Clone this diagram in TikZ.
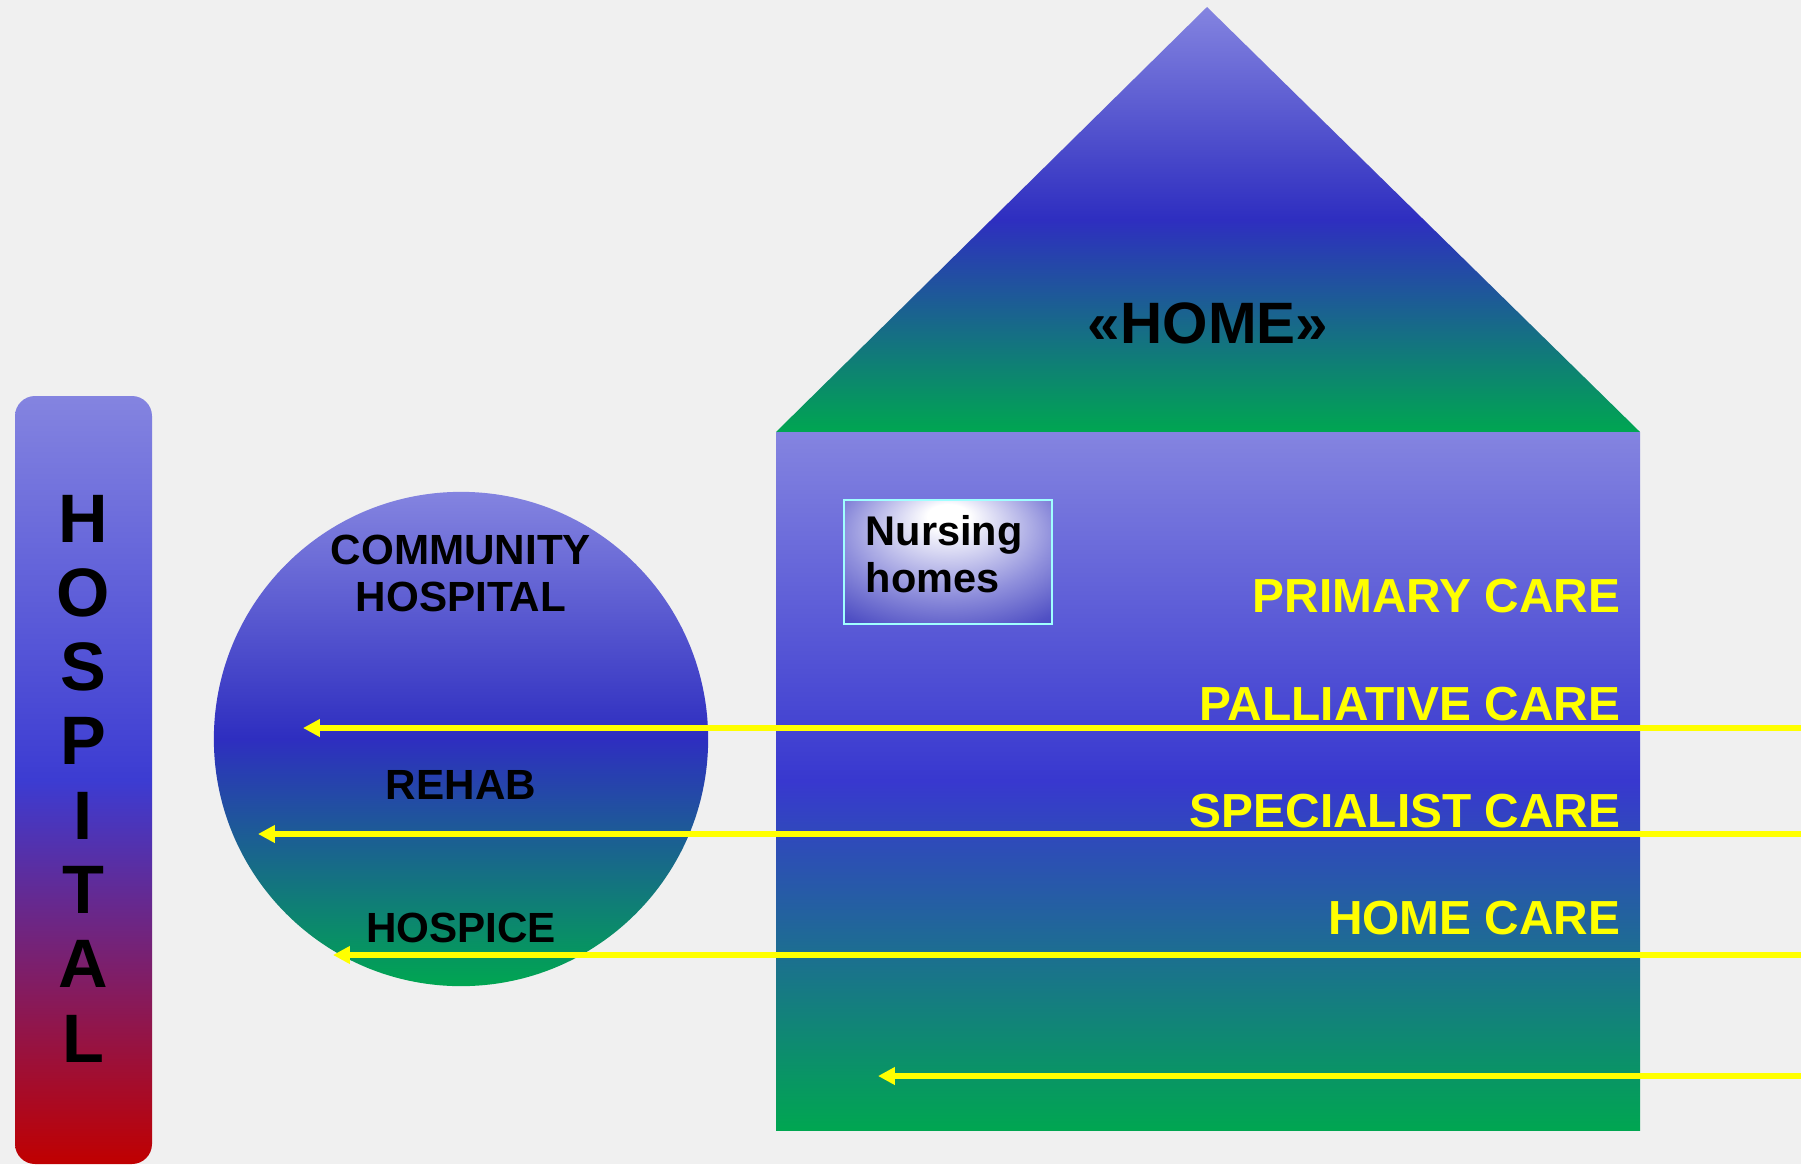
\documentclass[tikz,border=0pt]{standalone}
\usepackage{fontspec}
\setmainfont{Liberation Sans}
\usetikzlibrary{arrows.meta}
\definecolor{bgray}{HTML}{F0F0F0}
\definecolor{lilac}{HTML}{8484E0}
\definecolor{deepblue}{HTML}{2E2EC0}
\definecolor{bodyblue}{HTML}{3838CF}
\definecolor{hospblue}{HTML}{3C3CD2}
\definecolor{hospred}{HTML}{C00000}
\definecolor{grass}{HTML}{00A651}
\definecolor{nursemid}{HTML}{9090DC}
\definecolor{nursedark}{HTML}{5050C4}
\definecolor{nurseblue}{HTML}{3030B8}
\definecolor{nurseline}{HTML}{A0FFFF}
\definecolor{careyellow}{HTML}{FFFF00}
\pgfdeclareverticalshading{hospshade}{100bp}{color(0bp)=(hospred); color(25bp)=(hospred); color(50bp)=(hospblue); color(75bp)=(lilac); color(100bp)=(lilac)}
\pgfdeclareverticalshading{homeshade}{100bp}{color(0bp)=(grass); color(25bp)=(grass); color(50bp)=(deepblue); color(75bp)=(lilac); color(100bp)=(lilac)}
\pgfdeclareverticalshading{bodyshade}{100bp}{color(0bp)=(grass); color(25bp)=(grass); color(50bp)=(bodyblue); color(75bp)=(lilac); color(100bp)=(lilac)}
\pgfdeclareradialshading{nurseshade}{\pgfpoint{0bp}{20bp}}{color(0bp)=(white); color(5bp)=(white); color(25bp)=(nursemid); color(38bp)=(nursedark); color(50bp)=(nurseblue); color(60bp)=(nurseblue)}

\begin{document}
\begin{tikzpicture}[x=0.01cm,y=-0.01cm,
    txt/.style={font=\bfseries,inner sep=0pt},
    care/.style={font=\fontsize{13.6}{16}\selectfont\bfseries,text=careyellow,inner sep=0pt,anchor=base east},
    carearrow/.style={draw=careyellow,line width=1.7pt,-{Triangle[length=4.8pt,width=4.8pt]}}]
  \useasboundingbox[fill=bgray] (0,0) rectangle (1801,1164);

  % hospital
  \shade[shading=hospshade,rounded corners=5.7pt] (15,396) rectangle (152,1164);
  \foreach \l [count=\i] in {H,O,S,P,I,T,A,L}
    \node[txt,font=\fontsize{19.5}{21}\selectfont\bfseries] (h\i) at (83,518.5+74.3*\i-74.3) {\l};

  % community hospital
  \shade[shading=homeshade] (461,739) circle (2.47cm);

  % home
  \shade[shading=homeshade] (776,432) -- (1207,7) -- (1640,432) -- cycle;
  \shade[shading=bodyshade] (776,432) rectangle (1640,1130);
  \shadedraw[shading=nurseshade,draw=nurseline,line width=0.65pt] (844,500) rectangle (1052,624);

  % arrows
  \coordinate (a1) at (1801,728);
  \coordinate (b1) at (303,728);
  \coordinate (a2) at (1801,834);
  \coordinate (b2) at (258,834);
  \coordinate (a3) at (1801,955);
  \coordinate (b3) at (333,955);
  \coordinate (a4) at (1801,1076);
  \coordinate (b4) at (878,1076);
  \draw[carearrow] (a1) -- (b1);
  \draw[carearrow] (a2) -- (b2);
  \draw[carearrow] (a3) -- (b3);
  \draw[carearrow] (a4) -- (b4);

  \node[txt,font=\fontsize{12}{13.4}\selectfont\bfseries,align=center] (comm) at (461,573.5) {COMMUNITY\\HOSPITAL};
  \node[txt,font=\fontsize{12}{13.4}\selectfont\bfseries] (rehab) at (461,785) {REHAB};
  \node[txt,font=\fontsize{12}{13.4}\selectfont\bfseries] (hospice) at (461,928) {HOSPICE};
  \node[txt,font=\fontsize{16.6}{18}\selectfont\bfseries] (home) at (1208,323.5) {«HOME»};
  \node[txt,font=\fontsize{11.8}{13.4}\selectfont\bfseries,align=left,anchor=north west] (nursing) at (865,515) {Nursing\\homes};

  \node[care] (primary) at (1621,612) {PRIMARY CARE};
  \node[care] (palliative) at (1621,720) {PALLIATIVE CARE};
  \node[care] (specialist) at (1621,827) {SPECIALIST CARE};
  \node[care] (homecare) at (1621,934) {HOME CARE};
\end{tikzpicture}
\end{document}
